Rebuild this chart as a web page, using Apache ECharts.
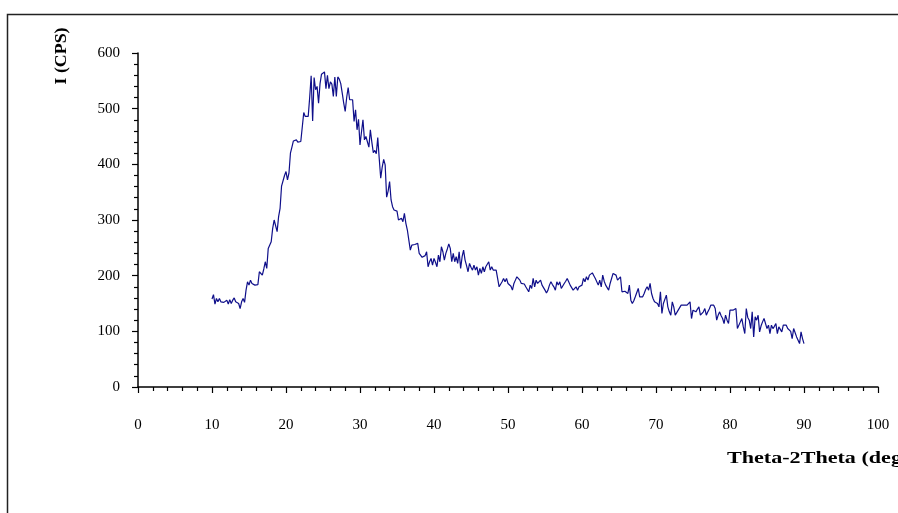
<!DOCTYPE html>
<html>
<head>
<meta charset="utf-8">
<script src="https://cdn.jsdelivr.net/npm/echarts@6/dist/echarts.min.js"></script>
<style>
html,body{margin:0;padding:0;background:#fff;}
#chart{width:898px;height:513px;}
</style>
</head>
<body>
<div id="chart"></div>
<script>
// Scan settings (degrees 2-theta)
const scanStart = 10.0;
const scanStep = 0.2;

// Intensity readings (CPS), one per step, 10.0 .. 29.8
const counts10to29 = [
  158,166,149,159,153, 159,153,156,152,149, 156,149,157,150,156, 160,153,156,150,141,
  153,159,152,174,189, 183,192,186,189,183, 186,184,207,210,201, 212,225,213,249,252,
  261,285,300,303,279, 306,321,361,360,380, 387,372,384,420,431, 442,440,444,440,443,
  441,444,493,486,487, 486,520,559,478,556, 534,540,510,545,562, 560,566,536,560,536,
  548,544,522,557,522, 557,553,545,528,510, 495,520,538,516,518, 516,477,498,462,481
];
// 30.0 .. 49.8
const counts30to49 = [
  435,458,480,444,450, 447,431,462,440,421, 425,419,448,410,375, 395,409,399,341,352,
  369,336,324,318,321, 316,300,298,303,297, 312,294,282,264,246, 255,257,256,255,258,
  240,237,233,231,236, 243,216,225,231,219, 231,224,216,237,225, 252,243,228,240,248,
  257,249,225,240,225, 234,222,243,213,234, 246,228,218,207,222, 215,210,219,210,216,
  201,213,204,216,207, 216,218,225,210,216, 210,213,210,211,180, 180,189,195,189,195
];
// 50.0 .. 69.8
const counts50to69 = [
  186,189,181,174,186, 192,198,198,192,186, 189,185,180,183,171, 183,177,195,180,192,
  186,189,192,183,183, 174,169,174,183,189, 184,180,174,189,183, 189,177,174,186,190,
  195,189,183,186,174, 171,180,174,180,183, 183,195,189,198,192, 201,198,205,200,195,
  198,183,192,180,201, 190,183,186,174,186, 183,204,204,201,192, 195,198,171,174,172,
  171,168,183,156,150, 155,162,159,177,162, 165,162,168,175,180, 174,186,168,159,153
];
// 70.0 .. 90.0
const counts70to90 = [
  156,150,144,171,132, 150,147,165,144,135, 129,153,144,129,126, 138,141,147,146,147,
  144,147,144,153,123, 138,141,135,140,144, 129,129,135,141,129, 135,140,147,144,147,
  141,120,129,135,128, 123,114,129,120,114, 138,141,138,140,141, 105,102,117,123,108,
  96,141,125,120,105, 135,90,126,120,129, 99,110,117,123,120, 105,111,96,111,105,
  109,114,96,108,105, 99,111,114,111,105, 108,100,87,105,102, 90,93,78,99,87,
  78
];

// Axis settings
const xTicks = {min: 0, max: 100, interval: 10};
const yTicks = {min: 0, max: 600, interval: 100};
const yAxisTitle = 'I (CPS)';
const xAxisTitle = 'Theta-2Theta (deg)';

const counts = [].concat(counts10to29, counts30to49, counts50to69, counts70to90);
const seriesData = counts.map((c, i) => [+(scanStart + i * scanStep).toFixed(1), c]);

const chart = echarts.init(document.getElementById('chart'), null, {renderer: 'canvas'});
const serif = '"Liberation Serif", "DejaVu Serif", serif';
const axisCommon = {
  axisLine: {show: true, lineStyle: {color: '#000', width: 1.5}},
  axisTick: {show: true, inside: false, length: 6, lineStyle: {color: '#000', width: 1.2}},
  minorTick: {show: true, splitNumber: 5, length: 4, lineStyle: {color: '#000', width: 1.2}},
  splitLine: {show: false},
  minorSplitLine: {show: false}
};
chart.setOption({
  animation: false,
  backgroundColor: '#fff',
  grid: {left: 138, right: 20, top: 53, bottom: 126, containLabel: false},
  xAxis: Object.assign({
    type: 'value', min: xTicks.min, max: xTicks.max, interval: xTicks.interval,
    axisLabel: {color: '#000', fontFamily: serif, fontSize: 15, margin: 31}
  }, axisCommon),
  yAxis: Object.assign({
    type: 'value', min: yTicks.min, max: yTicks.max, interval: yTicks.interval,
    axisLabel: {color: '#000', fontFamily: serif, fontSize: 15, margin: 18}
  }, axisCommon),
  series: [{
    type: 'line',
    data: seriesData,
    showSymbol: false,
    symbol: 'none',
    lineStyle: {color: '#0f0f8a', width: 1.2},
    clip: true
  }],
  graphic: [
    {type: 'rect', shape: {x: 7.5, y: 14.5, width: 1000, height: 600}, style: {fill: 'none', stroke: '#222', lineWidth: 1.5}, silent: true},
    {type: 'text', x: 62, y: 56, rotation: Math.PI / 2, scaleX: 1.05, style: {text: yAxisTitle, fontFamily: serif, fontWeight: 'bold', fontSize: 17, fill: '#000', align: 'center', verticalAlign: 'middle'}},
    {type: 'text', x: 727, y: 459, scaleX: 1.3, style: {text: xAxisTitle, fontFamily: serif, fontWeight: 'bold', fontSize: 17, fill: '#000', align: 'left', verticalAlign: 'middle'}}
  ]
});
</script>
</body>
</html>
